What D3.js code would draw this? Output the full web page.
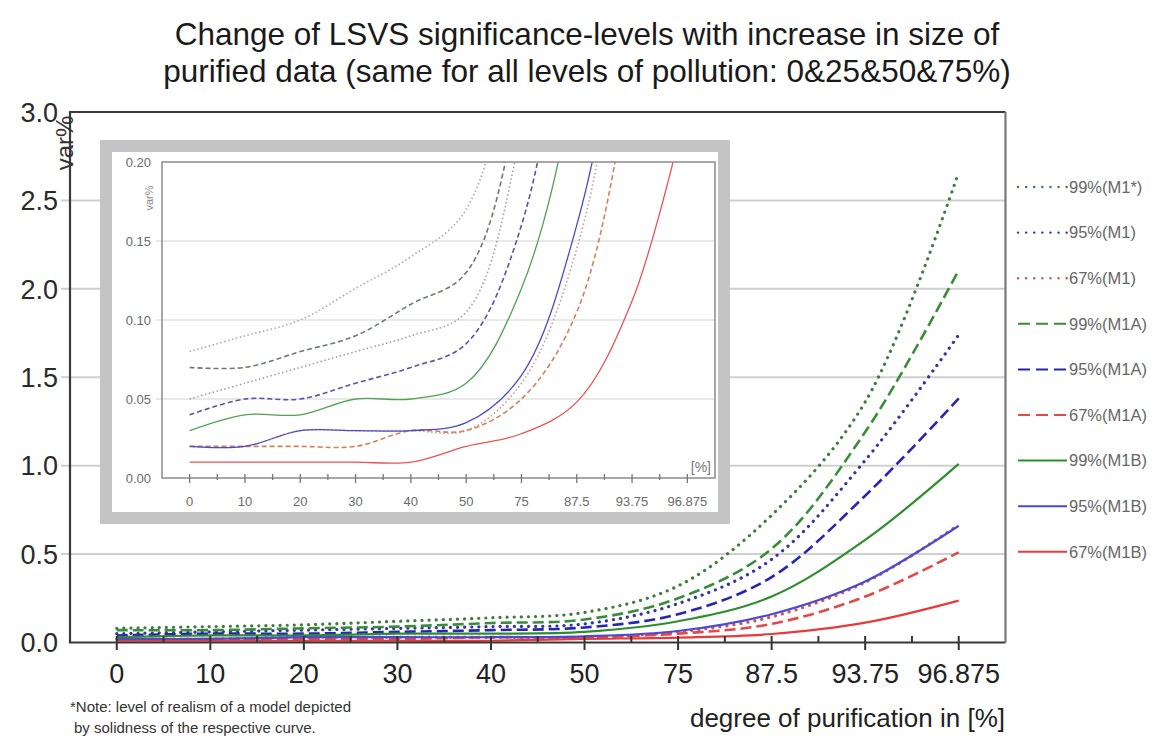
<!DOCTYPE html>
<html>
<head>
<meta charset="utf-8">
<script src="https://cdn.jsdelivr.net/npm/d3@7"></script>
<style>
  body { margin: 0; background: #fff; }
  text { font-family: "Liberation Sans", Arial, sans-serif; }
</style>
</head>
<body>
<svg width="1159" height="747"></svg>
<script>
// categories on the x axis (degree of purification)
var categories = ["0", "10", "20", "30", "40", "50", "75", "87.5", "93.75", "96.875"];
var seriesNames = ["99%(M1*)", "95%(M1)", "67%(M1)", "99%(M1A)", "95%(M1A)", "67%(M1A)", "99%(M1B)", "95%(M1B)", "67%(M1B)"];

// values (var%)
var m1_99  = [0.08, 0.09, 0.10, 0.12, 0.14, 0.17, 0.32, 0.72, 1.36, 2.66];
var m1_95  = [0.05, 0.06, 0.07, 0.08, 0.09, 0.105, 0.22, 0.47, 1.03, 1.74];
var m1_67  = [0.02, 0.02, 0.03, 0.03, 0.03, 0.03, 0.06, 0.145, 0.34, 0.665];
var m1a_99 = [0.07, 0.07, 0.08, 0.09, 0.11, 0.13, 0.25, 0.53, 1.19, 2.105];
var m1a_95 = [0.04, 0.05, 0.05, 0.06, 0.07, 0.085, 0.16, 0.37, 0.83, 1.38];
var m1a_67 = [0.02, 0.02, 0.02, 0.02, 0.03, 0.03, 0.05, 0.105, 0.26, 0.51];
var m1b_99 = [0.03, 0.04, 0.04, 0.05, 0.05, 0.06, 0.12, 0.26, 0.58, 1.01];
var m1b_95 = [0.02, 0.02, 0.03, 0.03, 0.03, 0.035, 0.065, 0.16, 0.345, 0.66];
var m1b_67 = [0.01, 0.01, 0.01, 0.01, 0.01, 0.02, 0.028, 0.048, 0.112, 0.237];

var yTicks = [0, 0.5, 1.0, 1.5, 2.0, 2.5, 3.0];
var insetTicks = [0, 0.05, 0.10, 0.15, 0.20];

var seriesValues = [m1_99, m1_95, m1_67, m1a_99, m1a_95, m1a_67, m1b_99, m1b_95, m1b_67];

// looks: main chart colour, inset colour (faded copy), line type
var looks = {
  "99%(M1*)": ["#3f7d3f", "#a9a9a9", "dot"],
  "95%(M1)":  ["#3434a4", "#9b9bc4", "dot"],
  "67%(M1)":  ["#d25454", "#c89a9a", "dot"],
  "99%(M1A)": ["#3a8c3a", "#6d7a6d", "dash"],
  "95%(M1A)": ["#2626b2", "#5656a6", "dash"],
  "67%(M1A)": ["#e24a4a", "#d4805a", "dash"],
  "99%(M1B)": ["#2e8e2e", "#52a052", "solid"],
  "95%(M1B)": ["#4a4ad2", "#4b4bc2", "solid"],
  "67%(M1B)": ["#e83a3a", "#ea5252", "solid"]
};

var series = seriesNames.map(function(n, i) {
  return { name: n, values: seriesValues[i] };
});

var svg = d3.select("svg");

// ---------- main chart ----------
var x = d3.scalePoint().domain(categories).range([70, 1005.5]).padding(0.5),
    y = d3.scaleLinear().domain([0, 3]).range([642.5, 112]);

// title
svg.append("text").attr("x", 587).attr("y", 45).attr("text-anchor", "middle")
  .attr("font-size", 31.5).attr("fill", "#1a1a1a")
  .text("Change of LSVS significance-levels with increase in size of");
svg.append("text").attr("x", 587).attr("y", 82).attr("text-anchor", "middle")
  .attr("font-size", 31.5).attr("fill", "#1a1a1a")
  .text("purified data (same for all levels of pollution: 0&25&50&75%)");

// grid lines (with short ticks out to the left)
svg.append("g").selectAll("line").data(yTicks.slice(1, -1)).enter().append("line")
  .attr("x1", 61).attr("x2", 1005.5)
  .attr("y1", function(d) { return y(d); }).attr("y2", function(d) { return y(d); })
  .attr("stroke", "#cfcfcf").attr("stroke-width", 2);

svg.append("g").selectAll("text").data(yTicks).enter().append("text")
  .attr("x", 58).attr("y", function(d) { return y(d); }).attr("dy", "0.36em")
  .attr("text-anchor", "end").attr("font-size", 27).attr("fill", "#2a2a2a")
  .text(function(d) { return d.toFixed(1); });

function dashFor(type, inset) {
  if (type == "dot") return inset ? "1.5,2.5" : "0.1,7";
  if (type == "dash") return inset ? "5,3" : "11,5";
  return null;
}

var line = d3.line()
  .x(function(d, i) { return x(categories[i]); })
  .y(function(d) { return y(d); })
  .curve(d3.curveCatmullRom.alpha(0.5));

svg.append("g").selectAll("path").data(series).enter().append("path")
  .attr("d", function(s) { return line(s.values); })
  .attr("fill", "none")
  .attr("stroke", function(s) { return looks[s.name][0]; })
  .attr("stroke-width", function(s) { return looks[s.name][2] == "solid" ? 2.2 : (looks[s.name][2] == "dot" ? 3.2 : 2.6); })
  .attr("stroke-linecap", function(s) { return looks[s.name][2] == "dot" ? "round" : "butt"; })
  .attr("stroke-dasharray", function(s) { return dashFor(looks[s.name][2], false); });

// x ticks: majors at the categories, minors half way between
var step = x.step();
var minors = categories.slice(0, -1).map(function(c) { return x(c) + step / 2; });
svg.append("g").selectAll("line").data(categories).enter().append("line")
  .attr("x1", function(d) { return x(d); }).attr("x2", function(d) { return x(d); })
  .attr("y1", 636).attr("y2", 650).attr("stroke", "#333").attr("stroke-width", 2);
svg.append("g").selectAll("line").data(minors).enter().append("line")
  .attr("x1", function(d) { return d; }).attr("x2", function(d) { return d; })
  .attr("y1", 636).attr("y2", 643).attr("stroke", "#333").attr("stroke-width", 2);

svg.append("g").selectAll("text").data(categories).enter().append("text")
  .attr("x", function(d) { return x(d); }).attr("y", 683)
  .attr("text-anchor", "middle").attr("font-size", 27).attr("fill", "#222")
  .text(function(d) { return d; });

// frame: dark on top/left/bottom, greyer on the right
svg.append("path").attr("d", "M1005.5,112H70V642.5H1005.5")
  .attr("fill", "none").attr("stroke", "#3a3a3a").attr("stroke-width", 2.2);
svg.append("line").attr("x1", 1005.5).attr("x2", 1005.5).attr("y1", 112).attr("y2", 642.5)
  .attr("stroke", "#777").attr("stroke-width", 2.2);

svg.append("text").attr("transform", "translate(73,143) rotate(-90)")
  .attr("text-anchor", "middle").attr("font-size", 24).attr("fill", "#333")
  .text("var%");

svg.append("text").attr("x", 1005).attr("y", 727).attr("text-anchor", "end")
  .attr("font-size", 26).attr("fill", "#222").text("degree of purification in [%]");

svg.append("text").attr("x", 70).attr("y", 712).attr("font-size", 15).attr("fill", "#333")
  .text("*Note: level of realism of a model depicted");
svg.append("text").attr("x", 74).attr("y", 733).attr("font-size", 15).attr("fill", "#333")
  .text("by solidness of the respective curve.");

// legend
var legend = svg.append("g").selectAll("g").data(series).enter().append("g")
  .attr("transform", function(d, i) { return "translate(1018," + (187 + i * 45.6) + ")"; });
legend.append("line").attr("x1", 0).attr("x2", 49).attr("y1", 0).attr("y2", 0)
  .attr("stroke", function(s) { return looks[s.name][0]; })
  .attr("stroke-width", function(s) { return looks[s.name][2] == "dot" ? 2.4 : 2; })
  .attr("stroke-linecap", function(s) { return looks[s.name][2] == "dot" ? "round" : "butt"; })
  .attr("stroke-dasharray", function(s) {
    var t = looks[s.name][2];
    return t == "dot" ? "0.1,8" : (t == "dash" ? "12,6" : null);
  });
legend.append("text").attr("x", 51).attr("dy", "0.35em")
  .attr("font-size", 16.5).attr("fill", "#666")
  .text(function(s) { return s.name; });

// ---------- inset ----------
var xi = d3.scalePoint().domain(categories).range([162, 715]).padding(0.5),
    yi = d3.scaleLinear().domain([0, 0.2]).range([478, 162]);

var inset = svg.append("g");
inset.append("rect").attr("x", 106).attr("y", 146).attr("width", 618).attr("height", 372)
  .attr("fill", "#fff").attr("stroke", "#c4c4c4").attr("stroke-width", 12);

inset.append("g").selectAll("line").data(insetTicks.slice(1, -1)).enter().append("line")
  .attr("x1", 156).attr("x2", 715)
  .attr("y1", function(d) { return yi(d); }).attr("y2", function(d) { return yi(d); })
  .attr("stroke", "#e2e2e2").attr("stroke-width", 1.5);

inset.append("g").selectAll("text").data(insetTicks).enter().append("text")
  .attr("x", 151).attr("y", function(d) { return yi(d); }).attr("dy", "0.35em")
  .attr("text-anchor", "end").attr("font-size", 13).attr("fill", "#6a6a6a")
  .text(function(d) { return d.toFixed(2); });

inset.append("clipPath").attr("id", "insetClip").append("rect")
  .attr("x", 162).attr("y", 162).attr("width", 553).attr("height", 316);

var lineInset = d3.line()
  .x(function(d, i) { return xi(categories[i]); })
  .y(function(d) { return yi(d); })
  .curve(d3.curveCatmullRom.alpha(0.5));

inset.append("g").attr("clip-path", "url(#insetClip)")
  .selectAll("path").data(series).enter().append("path")
  .attr("d", function(s) { return lineInset(s.values); })
  .attr("fill", "none")
  .attr("stroke", function(s) { return looks[s.name][1]; })
  .attr("stroke-width", function(s) { return looks[s.name][2] == "solid" ? 1.3 : 1.6; })
  .attr("stroke-dasharray", function(s) { return dashFor(looks[s.name][2], true); });

inset.append("rect").attr("x", 162).attr("y", 162).attr("width", 553).attr("height", 316)
  .attr("fill", "none").attr("stroke", "#8a8a8a").attr("stroke-width", 1.5);

var stepI = xi.step();
var minorsI = categories.slice(0, -1).map(function(c) { return xi(c) + stepI / 2; });
inset.append("g").selectAll("line").data(categories).enter().append("line")
  .attr("x1", function(d) { return xi(d); }).attr("x2", function(d) { return xi(d); })
  .attr("y1", 474).attr("y2", 483).attr("stroke", "#777").attr("stroke-width", 1.3);
inset.append("g").selectAll("line").data(minorsI).enter().append("line")
  .attr("x1", function(d) { return d; }).attr("x2", function(d) { return d; })
  .attr("y1", 474).attr("y2", 480).attr("stroke", "#777").attr("stroke-width", 1.3);

inset.append("g").selectAll("text").data(categories).enter().append("text")
  .attr("x", function(d) { return xi(d); }).attr("y", 506)
  .attr("text-anchor", "middle").attr("font-size", 13).attr("fill", "#6a6a6a")
  .text(function(d) { return d; });

inset.append("text").attr("x", 711).attr("y", 472).attr("text-anchor", "end")
  .attr("font-size", 14).attr("fill", "#777").text("[%]");
inset.append("text").attr("transform", "translate(153,198) rotate(-90)")
  .attr("text-anchor", "middle").attr("font-size", 11).attr("fill", "#888")
  .text("var%");
</script>
</body>
</html>
